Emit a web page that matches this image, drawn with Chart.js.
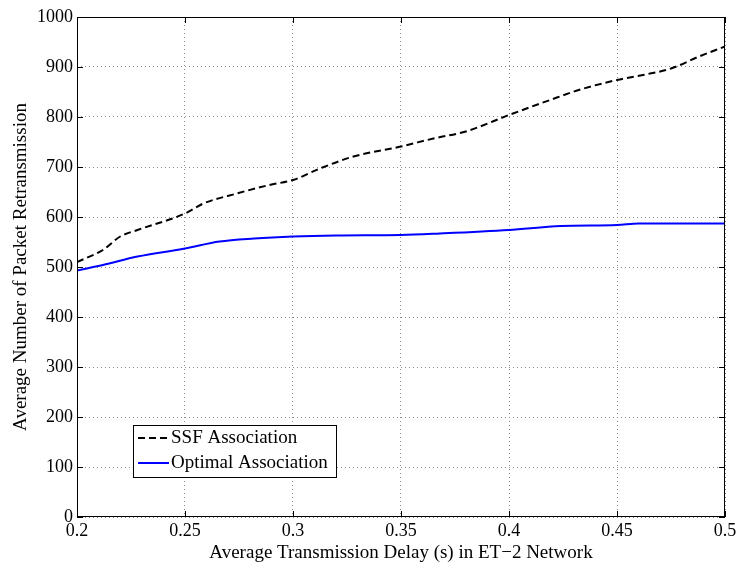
<!DOCTYPE html>
<html>
<head>
<meta charset="utf-8">
<script src="https://cdn.jsdelivr.net/npm/chart.js@4"></script>
<style>
	html, body { margin: 0; padding: 0; background: #fff; }
	#wrap { width: 740px; height: 567px; }
</style>
</head>
<body>
<div id="wrap"><canvas id="retxChart" width="740" height="567"></canvas></div>
<script>
// data block
const ssfDelay = [0.2, 0.212, 0.22, 0.228, 0.25, 0.2585, 0.274, 0.289, 0.3, 0.3125, 0.328, 0.35, 0.365, 0.38, 0.4, 0.419, 0.433, 0.45, 0.462, 0.475, 0.488, 0.5];
const ssfRetx = [510, 534, 561, 574, 607, 627, 647, 664, 674, 697, 721, 741, 757, 771, 804, 834, 855, 874, 884, 897, 921, 941];
const optDelay = [0.2, 0.212, 0.228, 0.25, 0.266, 0.282, 0.3, 0.32, 0.35, 0.368, 0.4, 0.424, 0.45, 0.46, 0.5];
const optRetx = [493, 504, 521, 537, 551, 557, 561, 563, 564, 567, 574, 582, 584, 587, 587];
const xTickLabels = ['0.2', '0.25', '0.3', '0.35', '0.4', '0.45', '0.5'];
const seriesNames = ['SSF Association', 'Optimal Association'];

const FONT = "'Liberation Serif', 'Times New Roman', serif";

function toPoints(xs, ys) {
	return xs.map((x, i) => ({ x: x, y: ys[i] }));
}

// frame + inward ticks like matlab
const framePlugin = {
	id: 'frame',
	afterDraw(chart) {
		const { ctx, chartArea: a, scales } = chart;
		ctx.save();
		ctx.strokeStyle = '#000';
		ctx.lineWidth = 1;
		ctx.setLineDash([]);
		ctx.strokeRect(a.left + 0.5, a.top + 0.5, a.right - a.left - 1, a.bottom - a.top - 1);
		ctx.beginPath();
		scales.x.ticks.forEach((t) => {
			const px = Math.round(scales.x.getPixelForValue(t.value)) + 0.5;
			ctx.moveTo(px, a.bottom); ctx.lineTo(px, a.bottom - 6);
			ctx.moveTo(px, a.top); ctx.lineTo(px, a.top + 6);
		});
		scales.y.ticks.forEach((t) => {
			const py = Math.round(scales.y.getPixelForValue(t.value)) + 0.5;
			ctx.moveTo(a.left, py); ctx.lineTo(a.left + 6, py);
			ctx.moveTo(a.right, py); ctx.lineTo(a.right - 6, py);
		});
		ctx.stroke();
		ctx.restore();
	},
};

// legend box drawn inside the plot area (lower left)
const boxLegend = {
	id: 'boxLegend',
	afterDraw(chart) {
		const { ctx, chartArea: a } = chart;
		const left = a.left + 56, top = a.bottom - 92, w = 203, h = 52;
		ctx.save();
		ctx.fillStyle = '#fff';
		ctx.fillRect(left, top, w, h);
		ctx.strokeStyle = '#000';
		ctx.lineWidth = 1;
		ctx.strokeRect(left + 0.5, top + 0.5, w, h);
		ctx.font = '19px ' + FONT;
		ctx.textBaseline = 'middle';
		chart.data.datasets.forEach((ds, i) => {
			const cy = top + 13 + i * 25;
			ctx.beginPath();
			ctx.strokeStyle = ds.borderColor;
			ctx.lineWidth = 2;
			ctx.setLineDash(ds.borderDash || []);
			ctx.moveTo(left + 5, cy);
			ctx.lineTo(left + 36, cy);
			ctx.stroke();
			ctx.setLineDash([]);
			ctx.fillStyle = '#000';
			ctx.fillText(ds.label, left + 38, cy);
		});
		ctx.restore();
	},
};

const config = {
	type: 'line',
	data: {
		datasets: [
			{
				label: seriesNames[0],
				data: toPoints(ssfDelay, ssfRetx),
				borderColor: '#000000',
				borderWidth: 2,
				borderDash: [7, 4],
				pointRadius: 0,
				cubicInterpolationMode: 'monotone',
			},
			{
				label: seriesNames[1],
				data: toPoints(optDelay, optRetx),
				borderColor: '#0000ff',
				borderWidth: 2,
				pointRadius: 0,
				cubicInterpolationMode: 'monotone',
			},
		],
	},
	options: {
		responsive: false,
		animation: false,
		layout: { padding: { top: 17, right: 15, left: 0, bottom: 0 } },
		plugins: { legend: { display: false }, tooltip: { enabled: false } },
		scales: {
			x: {
				type: 'linear',
				min: 0.2,
				max: 0.5,
				afterBuildTicks: (scale) => {
					scale.ticks = xTickLabels.map((l) => ({ value: parseFloat(l) }));
				},
				afterFit: (scale) => { scale.height = 50; },
				ticks: {
					color: '#000',
					padding: 3,
					font: { family: FONT, size: 18 },
					callback: (v, i) => xTickLabels[i],
				},
				grid: { color: '#8a8a8a', lineWidth: 1, drawTicks: false },
				border: { display: false, dash: [1, 3] },
				title: {
					display: true,
					text: 'Average Transmission Delay (s) in ET\u22122 Network',
					color: '#000',
					font: { family: FONT, size: 19 },
					padding: { top: 1, bottom: 3 },
				},
			},
			y: {
				min: 0,
				max: 1000,
				ticks: {
					stepSize: 100,
					color: '#000',
					padding: 4,
					font: { family: FONT, size: 18 },
					callback: (v) => String(v),
				},
				afterFit: (scale) => { scale.width = 77; },
				grid: { color: '#8a8a8a', lineWidth: 1, drawTicks: false },
				border: { display: false, dash: [1, 3] },
				title: {
					display: true,
					text: 'Average Number of Packet Retransmission',
					color: '#000',
					font: { family: FONT, size: 19 },
					padding: { top: 10, bottom: 0 },
				},
			},
		},
	},
	plugins: [framePlugin, boxLegend],
};

// render block
const retxChart = new Chart(document.getElementById('retxChart'), config);
</script>
</body>
</html>
